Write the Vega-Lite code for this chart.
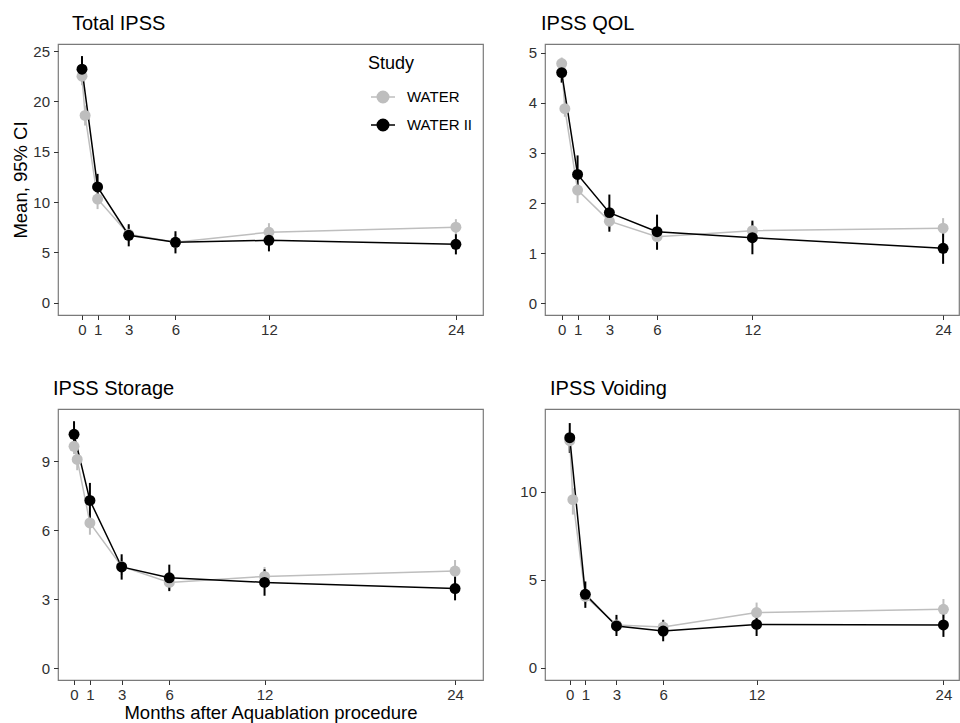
{
  "$schema": "https://vega.github.io/schema/vega-lite/v6.json",
  "padding": {"left": 11, "top": 13, "right": 0, "bottom": 0},
  "background": "white",
  "config": {
    "font": "Liberation Sans",
    "view": {"stroke": "#7a7a7a", "strokeWidth": 1.2},
    "axis": {"grid": false, "domain": false, "tickColor": "#333333", "tickSize": 4.5, "tickWidth": 1, "labelFontSize": 15, "labelColor": "#303030", "labelPadding": 3, "titleFontSize": 18.5, "titleFontWeight": "normal", "titleColor": "#000000", "labelFont": "Liberation Sans", "titleFont": "Liberation Sans"},
    "axisY": {"labelPadding": 4, "titlePadding": 2},
    "axisX": {"titlePadding": 1},
    "title": {"fontSize": 20, "fontWeight": "normal", "color": "#000000", "anchor": "start", "frame": "group", "font": "Liberation Sans", "baseline": "bottom", "offset": 10}
  },
  "datasets": {
    "d": [
      {"panel": "Total IPSS", "study": "WATER", "month": 0, "mean": 22.5, "lo": 21.6, "hi": 23.4},
      {"panel": "Total IPSS", "study": "WATER", "month": 0.2, "mean": 18.6, "lo": 17.6, "hi": 19.6},
      {"panel": "Total IPSS", "study": "WATER", "month": 1, "mean": 10.3, "lo": 9.3, "hi": 11.3},
      {"panel": "Total IPSS", "study": "WATER", "month": 3, "mean": 6.8, "lo": 6.0, "hi": 7.6},
      {"panel": "Total IPSS", "study": "WATER", "month": 6, "mean": 6.0, "lo": 5.3, "hi": 6.8},
      {"panel": "Total IPSS", "study": "WATER", "month": 12, "mean": 7.0, "lo": 6.2, "hi": 7.9},
      {"panel": "Total IPSS", "study": "WATER", "month": 24, "mean": 7.5, "lo": 6.7, "hi": 8.3},
      {"panel": "Total IPSS", "study": "WATER II", "month": 0, "mean": 23.2, "lo": 22.0, "hi": 24.5},
      {"panel": "Total IPSS", "study": "WATER II", "month": 1, "mean": 11.5, "lo": 10.2, "hi": 12.8},
      {"panel": "Total IPSS", "study": "WATER II", "month": 3, "mean": 6.7, "lo": 5.6, "hi": 7.8},
      {"panel": "Total IPSS", "study": "WATER II", "month": 6, "mean": 6.0, "lo": 4.9, "hi": 7.1},
      {"panel": "Total IPSS", "study": "WATER II", "month": 12, "mean": 6.2, "lo": 5.1, "hi": 7.3},
      {"panel": "Total IPSS", "study": "WATER II", "month": 24, "mean": 5.8, "lo": 4.8, "hi": 6.8},

      {"panel": "IPSS QOL", "study": "WATER", "month": 0, "mean": 4.78, "lo": 4.65, "hi": 4.9},
      {"panel": "IPSS QOL", "study": "WATER", "month": 0.2, "mean": 3.88, "lo": 3.72, "hi": 4.04},
      {"panel": "IPSS QOL", "study": "WATER", "month": 1, "mean": 2.26, "lo": 2.0, "hi": 2.52},
      {"panel": "IPSS QOL", "study": "WATER", "month": 3, "mean": 1.64, "lo": 1.48, "hi": 1.8},
      {"panel": "IPSS QOL", "study": "WATER", "month": 6, "mean": 1.33, "lo": 1.2, "hi": 1.46},
      {"panel": "IPSS QOL", "study": "WATER", "month": 12, "mean": 1.45, "lo": 1.3, "hi": 1.62},
      {"panel": "IPSS QOL", "study": "WATER", "month": 24, "mean": 1.5, "lo": 1.32, "hi": 1.7},
      {"panel": "IPSS QOL", "study": "WATER II", "month": 0, "mean": 4.6, "lo": 4.4, "hi": 4.8},
      {"panel": "IPSS QOL", "study": "WATER II", "month": 1, "mean": 2.57, "lo": 2.2, "hi": 2.95},
      {"panel": "IPSS QOL", "study": "WATER II", "month": 3, "mean": 1.81, "lo": 1.43, "hi": 2.17},
      {"panel": "IPSS QOL", "study": "WATER II", "month": 6, "mean": 1.43, "lo": 1.07, "hi": 1.77},
      {"panel": "IPSS QOL", "study": "WATER II", "month": 12, "mean": 1.31, "lo": 0.98, "hi": 1.65},
      {"panel": "IPSS QOL", "study": "WATER II", "month": 24, "mean": 1.1, "lo": 0.79, "hi": 1.4},

      {"panel": "IPSS Storage", "study": "WATER", "month": 0, "mean": 9.64, "lo": 9.3, "hi": 9.95},
      {"panel": "IPSS Storage", "study": "WATER", "month": 0.2, "mean": 9.07, "lo": 8.6, "hi": 9.5},
      {"panel": "IPSS Storage", "study": "WATER", "month": 1, "mean": 6.31, "lo": 5.8, "hi": 6.85},
      {"panel": "IPSS Storage", "study": "WATER", "month": 3, "mean": 4.42, "lo": 4.05, "hi": 4.8},
      {"panel": "IPSS Storage", "study": "WATER", "month": 6, "mean": 3.73, "lo": 3.4, "hi": 4.05},
      {"panel": "IPSS Storage", "study": "WATER", "month": 12, "mean": 3.99, "lo": 3.6, "hi": 4.4},
      {"panel": "IPSS Storage", "study": "WATER", "month": 24, "mean": 4.22, "lo": 3.8, "hi": 4.7},
      {"panel": "IPSS Storage", "study": "WATER II", "month": 0, "mean": 10.16, "lo": 9.6, "hi": 10.73},
      {"panel": "IPSS Storage", "study": "WATER II", "month": 1, "mean": 7.29, "lo": 6.5, "hi": 8.05},
      {"panel": "IPSS Storage", "study": "WATER II", "month": 3, "mean": 4.4, "lo": 3.85, "hi": 4.95},
      {"panel": "IPSS Storage", "study": "WATER II", "month": 6, "mean": 3.93, "lo": 3.35, "hi": 4.5},
      {"panel": "IPSS Storage", "study": "WATER II", "month": 12, "mean": 3.73, "lo": 3.15, "hi": 4.3},
      {"panel": "IPSS Storage", "study": "WATER II", "month": 24, "mean": 3.46, "lo": 2.95, "hi": 3.98},

      {"panel": "IPSS Voiding", "study": "WATER", "month": 0, "mean": 12.9, "lo": 12.3, "hi": 13.5},
      {"panel": "IPSS Voiding", "study": "WATER", "month": 0.2, "mean": 9.55, "lo": 8.7, "hi": 10.2},
      {"panel": "IPSS Voiding", "study": "WATER", "month": 1, "mean": 4.05, "lo": 3.6, "hi": 4.5},
      {"panel": "IPSS Voiding", "study": "WATER", "month": 3, "mean": 2.42, "lo": 2.0, "hi": 2.85},
      {"panel": "IPSS Voiding", "study": "WATER", "month": 6, "mean": 2.31, "lo": 1.9, "hi": 2.75},
      {"panel": "IPSS Voiding", "study": "WATER", "month": 12, "mean": 3.13, "lo": 2.6, "hi": 3.7},
      {"panel": "IPSS Voiding", "study": "WATER", "month": 24, "mean": 3.32, "lo": 2.8, "hi": 3.9},
      {"panel": "IPSS Voiding", "study": "WATER II", "month": 0, "mean": 13.07, "lo": 12.2, "hi": 13.9},
      {"panel": "IPSS Voiding", "study": "WATER II", "month": 1, "mean": 4.17, "lo": 3.4, "hi": 4.9},
      {"panel": "IPSS Voiding", "study": "WATER II", "month": 3, "mean": 2.37, "lo": 1.8, "hi": 3.0},
      {"panel": "IPSS Voiding", "study": "WATER II", "month": 6, "mean": 2.08, "lo": 1.5, "hi": 2.7},
      {"panel": "IPSS Voiding", "study": "WATER II", "month": 12, "mean": 2.46, "lo": 1.8, "hi": 3.1},
      {"panel": "IPSS Voiding", "study": "WATER II", "month": 24, "mean": 2.43, "lo": 1.75, "hi": 3.05}
    ]
  },
  "columns": 2,
  "bounds": "flush",
  "spacing": {"row": 94, "column": 62},
  "resolve": {"scale": {"x": "independent", "y": "independent"}, "legend": {"color": "independent"}},
  "concat": [
    {
      "width": 425, "height": 271,
      "title": {"text": "Total IPSS", "dx": 14},
      "data": {"name": "d"},
      "transform": [{"filter": "datum.panel === 'Total IPSS'"}],
      "encoding": {
        "x": {"field": "month", "type": "quantitative", "title": null, "scale": {"domain": [-1.54, 25.74], "nice": false, "zero": false}, "axis": {"values": [0, 1, 3, 6, 12, 24]}},
        "color": {"field": "study", "type": "nominal", "scale": {"domain": ["WATER", "WATER II"], "range": ["#bebebe", "#000000"]},
          "legend": {"title": "Study", "orient": "top-right", "offset": 11, "padding": 0, "titleFontSize": 18, "titleFontWeight": "normal", "titleColor": "#000000", "titlePadding": 11, "labelFontSize": 15, "labelColor": "#000000", "labelOffset": 11, "rowPadding": 6, "symbolOffset": 2, "symbolSize": 576, "symbolStrokeWidth": 1.5,
            "symbolType": "M-1,0L1,0M0.48,0A0.48,0.48,0,1,1,-0.48,0A0.48,0.48,0,1,1,0.48,0Z",
            "encode": {"symbols": {"update": {"fill": {"scale": "color", "field": "value"}, "stroke": {"scale": "color", "field": "value"}, "opacity": {"value": 1}}}}}}
      },
      "layer": [
        {"mark": {"type": "rule", "strokeWidth": 2}, "encoding": {"y": {"field": "lo", "type": "quantitative", "title": "Mean, 95% CI", "scale": {"domain": [-1.22, 25.7], "nice": false, "zero": false}, "axis": {"values": [0, 5, 10, 15, 20, 25]}}, "y2": {"field": "hi"}}},
        {"mark": {"type": "line", "strokeWidth": 1.5}, "encoding": {"y": {"field": "mean", "type": "quantitative", "title": "Mean, 95% CI"}}},
        {"mark": {"type": "point", "filled": true, "size": 120, "opacity": 1}, "encoding": {"y": {"field": "mean", "type": "quantitative", "title": "Mean, 95% CI"}}}
      ]
    },
    {
      "width": 414, "height": 271,
      "title": {"text": "IPSS QOL", "dx": -4},
      "data": {"name": "d"},
      "transform": [{"filter": "datum.panel === 'IPSS QOL'"}],
      "encoding": {
        "x": {"field": "month", "type": "quantitative", "title": null, "scale": {"domain": [-1.05, 25.0], "nice": false, "zero": false}, "axis": {"values": [0, 1, 3, 6, 12, 24]}},
        "color": {"field": "study", "type": "nominal", "scale": {"domain": ["WATER", "WATER II"], "range": ["#bebebe", "#000000"]}, "legend": null}
      },
      "layer": [
        {"mark": {"type": "rule", "strokeWidth": 2}, "encoding": {"y": {"field": "lo", "type": "quantitative", "title": null, "scale": {"domain": [-0.23, 5.17], "nice": false, "zero": false}, "axis": {"values": [0, 1, 2, 3, 4, 5]}}, "y2": {"field": "hi"}}},
        {"mark": {"type": "line", "strokeWidth": 1.5}, "encoding": {"y": {"field": "mean", "type": "quantitative", "title": null}}},
        {"mark": {"type": "point", "filled": true, "size": 120, "opacity": 1}, "encoding": {"y": {"field": "mean", "type": "quantitative", "title": null}}}
      ]
    },
    {
      "width": 425, "height": 271,
      "title": {"text": "IPSS Storage", "dx": -5},
      "data": {"name": "d"},
      "transform": [{"filter": "datum.panel === 'IPSS Storage'"}],
      "encoding": {
        "x": {"field": "month", "type": "quantitative", "title": "Months after Aquablation procedure", "scale": {"domain": [-1.01, 25.76], "nice": false, "zero": false}, "axis": {"values": [0, 1, 3, 6, 12, 24]}},
        "color": {"field": "study", "type": "nominal", "scale": {"domain": ["WATER", "WATER II"], "range": ["#bebebe", "#000000"]}, "legend": null}
      },
      "layer": [
        {"mark": {"type": "rule", "strokeWidth": 2}, "encoding": {"y": {"field": "lo", "type": "quantitative", "title": null, "scale": {"domain": [-0.51, 11.26], "nice": false, "zero": false}, "axis": {"values": [0, 3, 6, 9]}}, "y2": {"field": "hi"}}},
        {"mark": {"type": "line", "strokeWidth": 1.5}, "encoding": {"y": {"field": "mean", "type": "quantitative", "title": null}}},
        {"mark": {"type": "point", "filled": true, "size": 120, "opacity": 1}, "encoding": {"y": {"field": "mean", "type": "quantitative", "title": null}}}
      ]
    },
    {
      "width": 414, "height": 271,
      "title": {"text": "IPSS Voiding", "dx": 5},
      "data": {"name": "d"},
      "transform": [{"filter": "datum.panel === 'IPSS Voiding'"}],
      "encoding": {
        "x": {"field": "month", "type": "quantitative", "title": null, "scale": {"domain": [-1.59, 25.0], "nice": false, "zero": false}, "axis": {"values": [0, 1, 3, 6, 12, 24]}},
        "color": {"field": "study", "type": "nominal", "scale": {"domain": ["WATER", "WATER II"], "range": ["#bebebe", "#000000"]}, "legend": null}
      },
      "layer": [
        {"mark": {"type": "rule", "strokeWidth": 2}, "encoding": {"y": {"field": "lo", "type": "quantitative", "title": null, "scale": {"domain": [-0.7, 14.7], "nice": false, "zero": false}, "axis": {"values": [0, 5, 10]}}, "y2": {"field": "hi"}}},
        {"mark": {"type": "line", "strokeWidth": 1.5}, "encoding": {"y": {"field": "mean", "type": "quantitative", "title": null}}},
        {"mark": {"type": "point", "filled": true, "size": 120, "opacity": 1}, "encoding": {"y": {"field": "mean", "type": "quantitative", "title": null}}}
      ]
    }
  ]
}
